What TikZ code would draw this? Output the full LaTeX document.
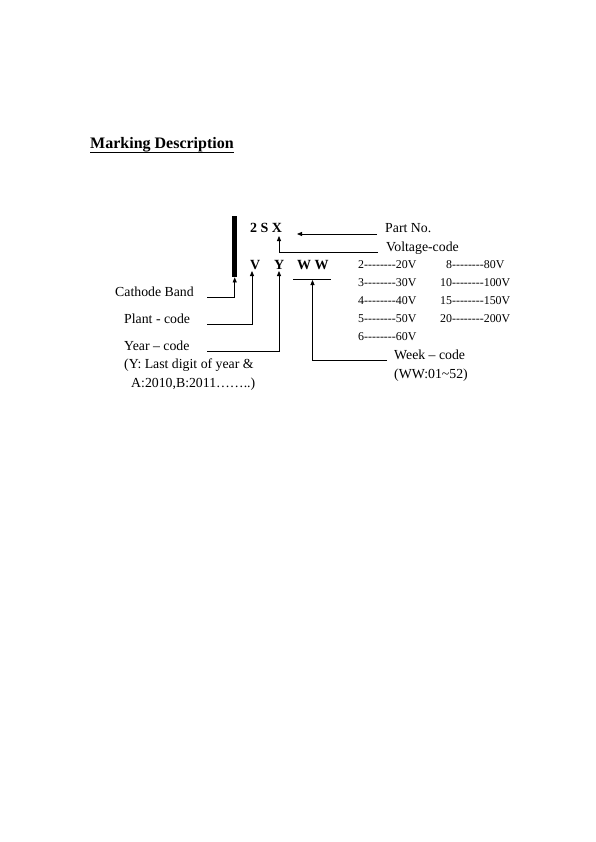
\documentclass[tikz,border=0pt]{standalone}
\usepackage{fontspec}
\setmainfont{Liberation Serif}[Ligatures=TeXOff]
\usetikzlibrary{arrows.meta,calc}
\begin{document}
\begin{tikzpicture}[x=1pt,y=-1pt,
  lbl/.style={anchor=base west,inner sep=0pt,font=\fontsize{13.8}{16}\selectfont},
  blbl/.style={anchor=base west,inner sep=0pt,font=\fontsize{14}{16}\selectfont\bfseries},
  tbl/.style={anchor=base west,inner sep=0pt,font=\fontsize{11.9}{14}\selectfont},
  conn/.style={line width=0.8pt,black},
  arr/.style={conn,-{Triangle[length=5pt,width=4pt]}}]
\useasboundingbox (0,0) rectangle (595,842);
% title
\node[anchor=base west,inner sep=0pt,font=\fontsize{16}{18}\selectfont\bfseries] (title) at (90,149) {Marking Description};
\draw[line width=0.9pt] ($(title.base west)+(0,3)$) -- ($(title.base east)+(0,3)$);
% band
\node[fill=black,minimum width=5pt,minimum height=61pt,inner sep=0pt,anchor=north west] (band) at (232,216) {};
% codes
\node[blbl] (psx) at (250,233) {2 S X};
\node[blbl] (v) at (250,269) {V};
\node[blbl] (y) at (274,269) {Y};
\node[blbl] (ww) at (297,269) {W W};
% labels
\node[lbl] (partno) at (385,233) {Part No.};
\node[lbl] (volt) at (386,251) {Voltage-code};
\node[lbl] (cath) at (115,296) {Cathode Band};
\node[lbl] (plant) at (124,323) {Plant - code};
\node[lbl] (year) at (124,350) {Year – code};
\node[lbl] (year2) at (124,368) {(Y: Last digit of year \&};
\node[lbl] (year3) at (131,387) {A:2010,B:2011……..)};
\node[lbl] (week) at (394,359) {Week – code};
\node[lbl] (week2) at (394,378) {(WW:01\textasciitilde 52)};
% table
\node[tbl] (t1) at (358,268) {2--------20V};
\node[tbl] (t2) at (358,286) {3--------30V};
\node[tbl] (t3) at (358,304) {4--------40V};
\node[tbl] (t4) at (358,322) {5--------50V};
\node[tbl] (t5) at (358,340) {6--------60V};
\node[tbl] (u1) at (446,268) {8--------80V};
\node[tbl] (u2) at (440,286) {10--------100V};
\node[tbl] (u3) at (440,304) {15--------150V};
\node[tbl] (u4) at (440,322) {20--------200V};
% connector coordinates
\coordinate (pA) at (377,234);
\coordinate (pT) at (297,234);
\coordinate (vA) at (378,252);
\coordinate (vT) at (279,236);
\coordinate (cA) at (207,297);
\coordinate (plA) at (207,324);
\coordinate (plT) at (252,271);
\coordinate (yA) at (207,351);
\coordinate (yT) at (279,271);
\coordinate (wwL) at (293,279);
\coordinate (wwR) at (331,279);
\coordinate (wT) at (312.5,280);
\coordinate (wA) at (387,360);
% connectors
\draw[arr] (pA) -- (pT);
\draw[arr] (vA) -| (vT);
\draw[arr] (cA) -| (band.south);
\draw[arr] (plA) -| (plT);
\draw[arr] (yA) -| (yT);
\draw[conn] (wwL) -- (wwR);
\draw[arr] (wA) -| (wT);
\end{tikzpicture}
\end{document}
